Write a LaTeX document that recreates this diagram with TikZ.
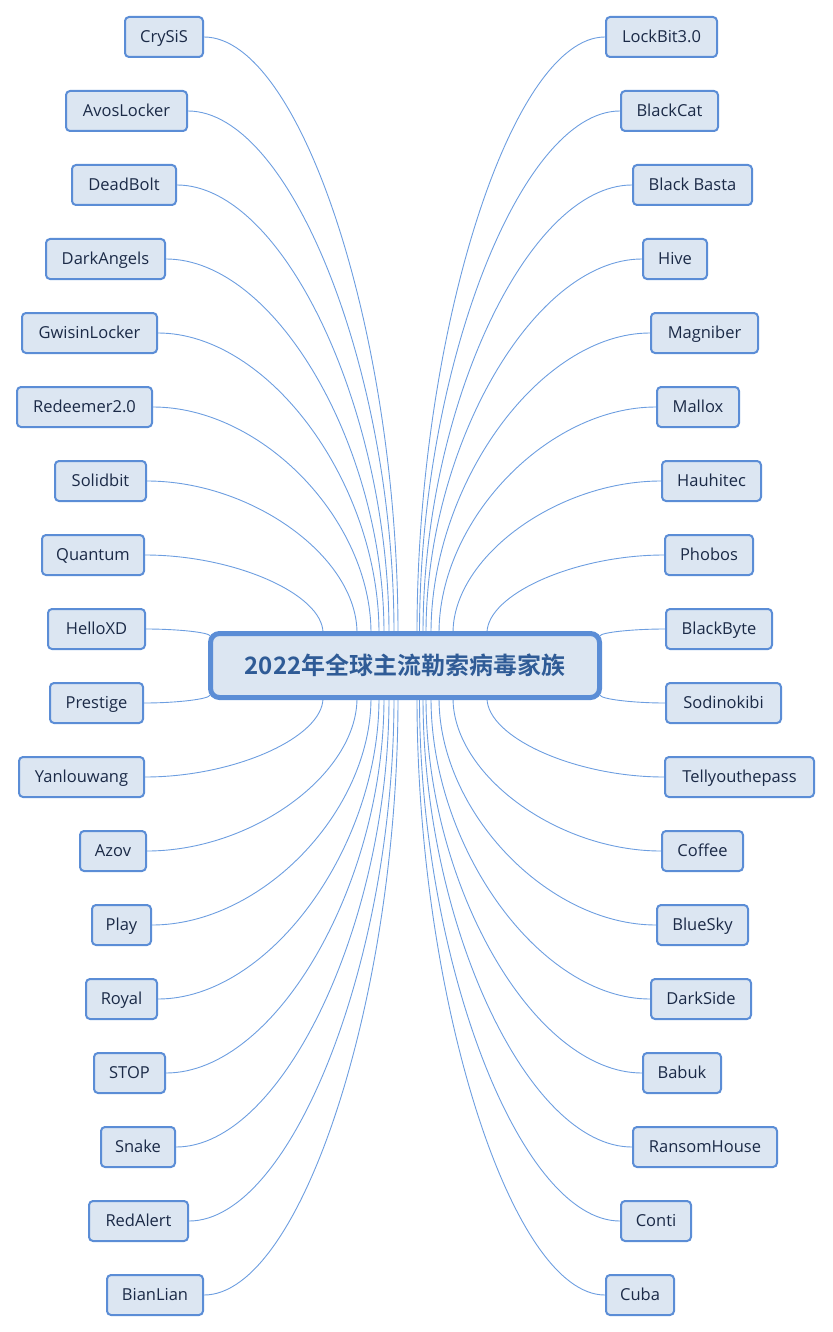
\documentclass[tikz,border=0pt]{standalone}
\usepackage{fontspec}
\setmainfont{Open Sans}
\newfontfamily\cjkbold{Noto Sans CJK SC Bold}
\usetikzlibrary{calc}
\pgfdeclarelayer{bg}
\pgfsetlayers{bg,main}
\definecolor{leaffill}{HTML}{DCE6F2}
\definecolor{leafdraw}{HTML}{5B8DD6}
\definecolor{leaftext}{HTML}{1B2A47}
\definecolor{centtext}{HTML}{2F5B96}
\definecolor{linecol}{HTML}{6D9EE0}
\tikzset{
  leaf/.style={draw=leafdraw, fill=leaffill, line width=2pt, rounded corners=4pt,
    minimum height=40pt, inner sep=0pt, text=leaftext, text height=13.5pt, text depth=2.5pt,
    font=\fontsize{16.5}{20}\selectfont},
  hub/.style={draw=leafdraw, fill=leaffill, line width=5pt, rounded corners=9pt,
    minimum width=389pt, minimum height=64pt, inner sep=0pt, text=centtext,
    font=\cjkbold\fontsize{24}{28}\selectfont},
  conn/.style={draw=linecol, line width=0.9pt}
}
\newcommand\lk[2]{\draw[conn] let \p1=(#1), \p2=(#2) in (\p1) .. controls ({(\x1+\x2)/2},\y1) and (\x2,{(\y1+\y2)/2}) .. (\p2);}
\begin{document}
\begin{tikzpicture}[x=1pt,y=-1pt]
\useasboundingbox (0,0) rectangle (832,1332);
\node[hub] (c) at (405,665.5) {2022年全球主流勒索病毒家族};
% left nodes
\node[leaf, minimum width=78pt] (l1) at (164,37) {CrySiS};
\node[leaf, minimum width=121pt] (l2) at (126.5,111) {AvosLocker};
\node[leaf, minimum width=104pt] (l3) at (124,185) {DeadBolt};
\node[leaf, minimum width=119pt] (l4) at (105.5,259) {DarkAngels};
\node[leaf, minimum width=135pt] (l5) at (89.5,333) {GwisinLocker};
\node[leaf, minimum width=135pt] (l6) at (84.5,407) {Redeemer2.0};
\node[leaf, minimum width=91pt] (l7) at (100.5,481) {Solidbit};
\node[leaf, minimum width=102pt] (l8) at (93,555) {Quantum};
\node[leaf, minimum width=97pt] (l9) at (96.5,629) {HelloXD};
\node[leaf, minimum width=93pt] (l10) at (96.5,703) {Prestige};
\node[leaf, minimum width=125pt] (l11) at (81.5,777) {Yanlouwang};
\node[leaf, minimum width=66pt] (l12) at (113,851) {Azov};
\node[leaf, minimum width=59pt] (l13) at (121.5,925) {Play};
\node[leaf, minimum width=71pt] (l14) at (121.5,999) {Royal};
\node[leaf, minimum width=71pt] (l15) at (129.5,1073) {STOP};
\node[leaf, minimum width=74pt] (l16) at (138,1147) {Snake};
\node[leaf, minimum width=99pt] (l17) at (138.5,1221) {RedAlert};
\node[leaf, minimum width=96pt] (l18) at (155,1295) {BianLian};
% right nodes
\node[leaf, minimum width=111pt] (r1) at (661.5,37) {LockBit3.0};
\node[leaf, minimum width=97pt] (r2) at (669.5,111) {BlackCat};
\node[leaf, minimum width=119pt] (r3) at (692.5,185) {Black Basta};
\node[leaf, minimum width=64pt] (r4) at (675,259) {Hive};
\node[leaf, minimum width=107pt] (r5) at (704.5,333) {Magniber};
\node[leaf, minimum width=82pt] (r6) at (698,407) {Mallox};
\node[leaf, minimum width=99pt] (r7) at (711.5,481) {Hauhitec};
\node[leaf, minimum width=88pt] (r8) at (709,555) {Phobos};
\node[leaf, minimum width=106pt] (r9) at (719,629) {BlackByte};
\node[leaf, minimum width=115pt] (r10) at (723.5,703) {Sodinokibi};
\node[leaf, minimum width=149pt] (r11) at (739.5,777) {Tellyouthepass};
\node[leaf, minimum width=81pt] (r12) at (702.5,851) {Coffee};
\node[leaf, minimum width=91pt] (r13) at (702.5,925) {BlueSky};
\node[leaf, minimum width=100pt] (r14) at (701,999) {DarkSide};
\node[leaf, minimum width=78pt] (r15) at (682,1073) {Babuk};
\node[leaf, minimum width=144pt] (r16) at (705,1147) {RansomHouse};
\node[leaf, minimum width=70pt] (r17) at (656,1221) {Conti};
\node[leaf, minimum width=68pt] (r18) at (640,1295) {Cuba};
% end points on hub
\coordinate (a1) at (398,633);
\coordinate (a2) at (394,633);
\coordinate (a3) at (389,633);
\coordinate (a4) at (384,633);
\coordinate (a5) at (379,633);
\coordinate (a6) at (371,633);
\coordinate (a7) at (357,633);
\coordinate (a8) at (323,633);
\coordinate (a9) at (210,636);
\coordinate (a10) at (210,695);
\coordinate (a11) at (323,698);
\coordinate (a12) at (357,698);
\coordinate (a13) at (371,698);
\coordinate (a14) at (379,698);
\coordinate (a15) at (384,698);
\coordinate (a16) at (389,698);
\coordinate (a17) at (394,698);
\coordinate (a18) at (398,698);
\coordinate (b1) at (417,633);
\coordinate (b2) at (419.5,633);
\coordinate (b3) at (423,633);
\coordinate (b4) at (426,633);
\coordinate (b5) at (431,633);
\coordinate (b6) at (439,633);
\coordinate (b7) at (453,633);
\coordinate (b8) at (487,633);
\coordinate (b9) at (600,636);
\coordinate (b10) at (600,695);
\coordinate (b11) at (487,698);
\coordinate (b12) at (453,698);
\coordinate (b13) at (439,698);
\coordinate (b14) at (431,698);
\coordinate (b15) at (426,698);
\coordinate (b16) at (423,698);
\coordinate (b17) at (419.5,698);
\coordinate (b18) at (417,698);
\begin{pgfonlayer}{bg}
\foreach \i in {1,...,18}{\lk{l\i.east}{a\i}\lk{r\i.west}{b\i}}
\end{pgfonlayer}
\end{tikzpicture}
\end{document}
